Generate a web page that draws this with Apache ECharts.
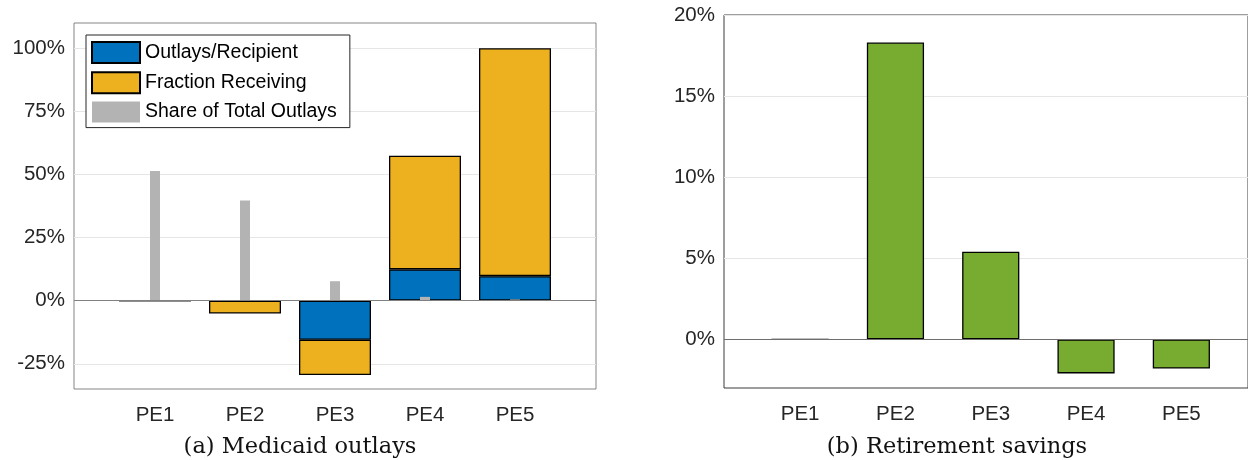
<!DOCTYPE html>
<html>
<head>
<meta charset="utf-8">
<script src="https://cdn.jsdelivr.net/npm/echarts@6/dist/echarts.min.js"></script>
<style>
  html, body { margin: 0; padding: 0; background: #ffffff; }
  #chart { width: 1248px; height: 460px; }
</style>
</head>
<body>
<div id="chart"></div>
<script>
// Policy experiments shown on both panels
const categories = ['PE1', 'PE2', 'PE3', 'PE4', 'PE5'];

// (a) Medicaid outlays, percent change
const outlaysPerRecipient = [0, 0, -15.5, 12.4, 9.7];
const fractionReceiving = [0, -5.1, -14.0, 45.0, 90.3];
const shareOfTotalOutlays = [51.4, 39.7, 7.7, 1.5, 0.5];

// (b) Retirement savings, percent change
const retirementSavings = [0, 18.3, 5.4, -2.1, -1.8];

// Tick values for the two value axes
const medicaidTicks = [-25, 0, 25, 50, 75, 100];
const retirementTicks = [0, 5, 10, 15, 20];

const SANS = '"Liberation Sans", Arial, Helvetica, sans-serif';
const SERIF = '"DejaVu Serif", serif';
const TICK_COLOR = '#262626';

const chart = echarts.init(document.getElementById('chart'), null, { renderer: 'canvas' });

const pct = v => v + '%';

function frameYAxis(gridIndex, min, max, ticks) {
  return {
    gridIndex, type: 'value', min, max,
    axisLine: { show: false },
    axisTick: { show: false, customValues: ticks },
    axisLabel: {
      customValues: ticks, formatter: pct, margin: 9,
      fontFamily: SANS, fontSize: 20.5, color: TICK_COLOR
    },
    splitLine: { show: true, lineStyle: { color: '#e6e6e6', width: 1 } }
  };
}

function hiddenYAxis(gridIndex, min, max) {
  return { gridIndex, type: 'value', min, max, show: false };
}

function categoryAxis(gridIndex, showLabels) {
  return {
    gridIndex, type: 'category', data: categories, show: showLabels,
    axisLine: { show: false, onZero: false },
    axisTick: { show: false },
    splitLine: { show: false },
    axisLabel: { margin: 16, fontFamily: SANS, fontSize: 20.5, color: TICK_COLOR }
  };
}

function baseline(xAxisIndex, yAxisIndex, color) {
  return {
    type: 'line', xAxisIndex, yAxisIndex, data: [], silent: true, z: 1,
    markLine: {
      silent: true, symbol: 'none', animation: false,
      label: { show: false },
      lineStyle: { color, width: 1, type: 'solid' },
      data: [{ yAxis: 0 }]
    }
  };
}

const barEdge = { borderColor: '#000000', borderWidth: 1.3 };

chart.setOption({
  animation: false,
  backgroundColor: '#ffffff',
  grid: [
    // panel (a): boxed frame and the band area holding the bars
    { left: 74, top: 23, width: 522, height: 366, show: true, borderColor: '#858585', borderWidth: 1, backgroundColor: 'transparent' },
    { left: 110, top: 23, width: 450, height: 366 },
    // panel (b)
    { left: 724, top: 15, width: 534, height: 373, show: true, borderColor: '#3c3c3c', borderWidth: 1, backgroundColor: 'transparent' },
    { left: 752.5, top: 15, width: 476.5, height: 373 }
  ],
  xAxis: [
    { gridIndex: 0, type: 'value', min: 0, max: 1, show: false },
    categoryAxis(1, true),
    categoryAxis(1, false),
    { gridIndex: 2, type: 'value', min: 0, max: 1, show: false },
    categoryAxis(3, true)
  ],
  yAxis: [
    frameYAxis(0, -35, 110, medicaidTicks),
    hiddenYAxis(1, -35, 110),
    frameYAxis(2, -3, 20, retirementTicks),
    hiddenYAxis(3, -3, 20)
  ],
  legend: {
    data: ['Outlays/Recipient', 'Fraction Receiving', 'Share of Total Outlays'],
    orient: 'vertical', left: 86, top: 35,
    icon: 'rect', itemWidth: 48, itemHeight: 21, itemGap: 7.3,
    padding: [6, 13, 5, 5],
    borderColor: '#262626', borderWidth: 1, backgroundColor: '#ffffff',
    selectedMode: false,
    textStyle: { fontFamily: SANS, fontSize: 19.5, color: '#000000' }
  },
  series: [
    baseline(0, 0, '#808080'),
    {
      name: 'Outlays/Recipient', type: 'bar', xAxisIndex: 1, yAxisIndex: 1,
      stack: 'medicaid', barWidth: '80%', z: 3,
      itemStyle: Object.assign({ color: '#0072BD' }, barEdge),
      data: outlaysPerRecipient
    },
    {
      name: 'Fraction Receiving', type: 'bar', xAxisIndex: 1, yAxisIndex: 1,
      stack: 'medicaid', barWidth: '80%', z: 3,
      itemStyle: Object.assign({ color: '#EDB120' }, barEdge),
      data: fractionReceiving
    },
    {
      name: 'Share of Total Outlays', type: 'bar', xAxisIndex: 2, yAxisIndex: 1,
      barWidth: 10, z: 4,
      itemStyle: { color: '#B3B3B3' },
      data: shareOfTotalOutlays
    },
    baseline(3, 2, '#6e6e6e'),
    {
      name: 'Retirement savings', type: 'bar', xAxisIndex: 4, yAxisIndex: 3,
      barWidth: '60%', z: 3,
      itemStyle: Object.assign({ color: '#77AC30' }, barEdge),
      data: retirementSavings
    }
  ],
  graphic: [
    {
      type: 'text', x: 300, y: 447, silent: true,
      style: { text: '(a) Medicaid outlays', font: '22.5px ' + SERIF, fill: '#111111', align: 'center', verticalAlign: 'middle' }
    },
    {
      type: 'text', x: 957, y: 447, silent: true,
      style: { text: '(b) Retirement savings', font: '22.5px ' + SERIF, fill: '#111111', align: 'center', verticalAlign: 'middle' }
    }
  ]
});
</script>
</body>
</html>
